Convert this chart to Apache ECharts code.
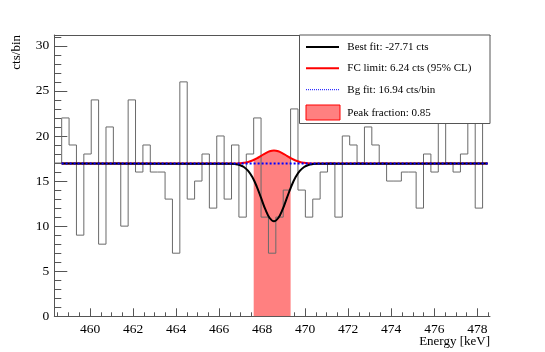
<!DOCTYPE html>
<html>
<head>
<meta charset="utf-8">
<script src="https://cdn.jsdelivr.net/npm/echarts@6/dist/echarts.min.js"></script>
<style>
html,body{margin:0;padding:0;background:#fff;}
#chart{width:545px;height:352px;}
</style>
</head>
<body>
<div id="chart"></div>
<script>
// ---- data ----
const X_MIN = 458.34, X_MAX = 478.59;
const BIN_START = 458.34;
const BIN_WIDTH = 0.3432;
const counts = [17,22,19,9,18,24,8,21,17,10,24,16,19,16,16,13,7,26,13,15,
                18,12,20,13,19,11,18,22,11,7,11,14,23,14,11,13,16,17,11,20,
                19,17,21,19,17,15,15,16,16,12,18,16,22,17,16,18,23,12,22];
const fitX   = [458.68,466.55,466.75,466.95,467.15,467.35,467.55,467.75,467.95,468.15,468.35,468.55,
                468.75,468.95,469.15,469.35,469.55,469.75,469.95,470.15,470.35,470.55,478.48];
const bestFit= [16.94,16.92,16.88,16.78,16.56,16.13,15.42,14.39,13.13,11.85,10.90,10.54,
                10.90,11.85,13.13,14.39,15.42,16.13,16.56,16.78,16.88,16.92,16.94];
const fcLimit= [16.94,16.94,16.95,16.98,17.03,17.12,17.28,17.51,17.80,18.08,18.30,18.38,
                18.30,18.08,17.80,17.51,17.28,17.12,17.03,16.98,16.95,16.94,16.94];
const bgX = [458.68,478.48];
const bgFit = [16.94,16.94];
const peakX = [467.607,467.75,467.95,468.15,468.35,468.55,468.75,468.95,469.15,469.323];
const peakY = [17.34,17.51,17.80,18.08,18.30,18.38,18.30,18.08,17.80,17.55];
const xMajorTicks = [460,462,464,466,468,470,472,474,476,478];
const xMinorTicks = [];
for (let v = 458.5; v <= 478.5; v += 0.5) xMinorTicks.push(v);
const yMajorTicks = [0,5,10,15,20,25,30];
const yMinorTicks = [];
for (let v = 0; v <= 31; v += 1) yMinorTicks.push(v);
const legendTexts = ['Best fit: -27.71 cts','FC limit: 6.24 cts (95% CL)','Bg fit: 16.94 cts/bin','Peak fraction: 0.85'];

// ---- chart ----
const FONT = 'Liberation Serif';
const AX = '#555';
const histData = counts.map((c,i)=>[BIN_START + i*BIN_WIDTH, c]);
histData.push([BIN_START + counts.length*BIN_WIDTH, counts[counts.length-1]]);
const zip = (a,b)=>a.map((x,i)=>[x,b[i]]);

const chart = echarts.init(document.getElementById('chart'), null, {renderer:'canvas'});
const axBase = {type:'value', min:X_MIN, max:X_MAX, splitLine:{show:false}};
chart.setOption({
  animation:false,
  grid:{left:54.3, right:55, top:35, bottom:35.7},
  xAxis:[
    Object.assign({}, axBase, {position:'bottom',
      axisLine:{show:true, lineStyle:{color:AX, width:1}},
      axisTick:{show:true, inside:true, length:8, lineStyle:{color:AX}, customValues:xMajorTicks},
      axisLabel:{show:true, customValues:xMajorTicks, color:'#000', fontFamily:FONT, fontSize:13.5, margin:6}}),
    Object.assign({}, axBase, {position:'bottom',
      axisLine:{show:false},
      axisTick:{show:true, inside:true, length:4, lineStyle:{color:AX}, customValues:xMinorTicks},
      axisLabel:{show:false}}),
    Object.assign({}, axBase, {position:'top',
      axisLine:{show:true, lineStyle:{color:AX, width:1}},
      axisTick:{show:false}, axisLabel:{show:false}})
  ],
  yAxis:[
    {type:'value', min:0, max:31.2, position:'left', splitLine:{show:false},
      axisLine:{show:true, lineStyle:{color:AX, width:1}},
      axisTick:{show:true, inside:true, length:13, lineStyle:{color:AX}, customValues:yMajorTicks},
      axisLabel:{show:true, customValues:yMajorTicks, color:'#000', fontFamily:FONT, fontSize:13.5, margin:5}},
    {type:'value', min:0, max:31.2, position:'left', splitLine:{show:false},
      axisLine:{show:false},
      axisTick:{show:true, inside:true, length:7, lineStyle:{color:AX}, customValues:yMinorTicks},
      axisLabel:{show:false}}
  ],
  series:[
    {type:'line', name:'peak', data:zip(peakX,peakY), showSymbol:false, symbol:'none', smooth:0.4,
     lineStyle:{width:0}, areaStyle:{color:'#ff8080', opacity:1}, z:1, silent:true},
    {type:'line', name:'hist', data:histData, step:'end', symbol:'none', showSymbol:false,
     lineStyle:{color:'#6a6a6a', width:1}, z:2, silent:true},
    {type:'line', name:'fc', data:zip(fitX,fcLimit), symbol:'none', smooth:0.4,
     lineStyle:{color:'#ff0000', width:2}, z:3, silent:true},
    {type:'line', name:'best', data:zip(fitX,bestFit), symbol:'none', smooth:0.4,
     lineStyle:{color:'#000000', width:2}, z:4, silent:true},
    {type:'line', name:'bg', data:zip(bgX,bgFit), symbol:'none',
     lineStyle:{color:'#0000ff', width:2, type:[2,2]}, z:5, silent:true}
  ],
  graphic:[
    {type:'text', left:null, x:17, y:35, rotation:Math.PI/2, z:100,
     style:{text:'cts/bin', font:'13px "Liberation Serif"', fill:'#000', align:'right', verticalAlign:'middle'}},
    {type:'text', x:490, y:342, z:100,
     style:{text:'Energy [keV]', font:'13px "Liberation Serif"', fill:'#000', align:'right', verticalAlign:'middle'}},
    {type:'group', z:100, children:[
      {type:'rect', shape:{x:299.5, y:35, width:190.5, height:88.5}, style:{fill:'#fff', stroke:AX, lineWidth:1}, z:100},
      {type:'line', shape:{x1:306, y1:47, x2:339, y2:47}, style:{stroke:'#000', lineWidth:2}, z:101},
      {type:'line', shape:{x1:306, y1:68.3, x2:339, y2:68.3}, style:{stroke:'#ff0000', lineWidth:2}, z:101},
      {type:'line', shape:{x1:306, y1:89.7, x2:339, y2:89.7}, style:{stroke:'#0000ff', lineWidth:1, lineDash:[1,1]}, z:101},
      {type:'rect', shape:{x:306, y:105, width:34, height:15}, style:{fill:'#ff8080', stroke:'#ff0000', lineWidth:1}, z:101},
      {type:'text', x:347.3, y:47, style:{text:legendTexts[0], font:'11px "Liberation Serif"', fill:'#000', verticalAlign:'middle'}, z:101},
      {type:'text', x:347.3, y:68.3, style:{text:legendTexts[1], font:'11px "Liberation Serif"', fill:'#000', verticalAlign:'middle'}, z:101},
      {type:'text', x:347.3, y:89.7, style:{text:legendTexts[2], font:'11px "Liberation Serif"', fill:'#000', verticalAlign:'middle'}, z:101},
      {type:'text', x:347.3, y:112.7, style:{text:legendTexts[3], font:'11px "Liberation Serif"', fill:'#000', verticalAlign:'middle'}, z:101}
    ]}
  ]
});
</script>
</body>
</html>
